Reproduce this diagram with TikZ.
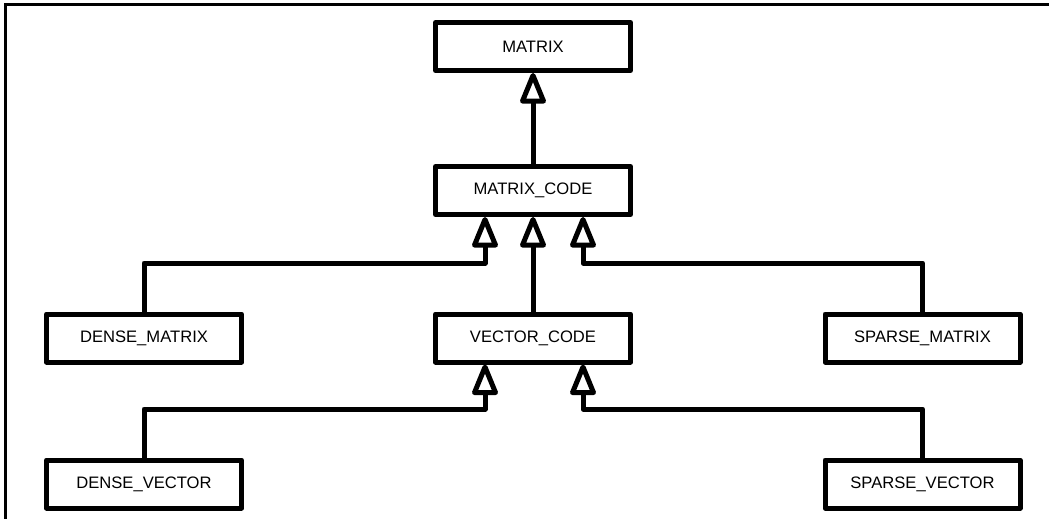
\documentclass[tikz,border=0pt]{standalone}
\usepackage{fontspec}
\setmainfont{Liberation Sans}
\usetikzlibrary{arrows.meta}
\begin{document}
\begin{tikzpicture}[x=1pt, y=-1pt,
  cls/.style={draw, line width=5pt, line join=round, minimum width=195pt,
    minimum height=48pt, inner sep=0pt, font=\fontsize{16.6}{20}\selectfont},
  conn/.style={line width=5pt, line join=round,
    -{Triangle[open, length=35pt, width=27pt, round]}},
  frameline/.style={line width=3pt}]
\useasboundingbox (0,0) rectangle (1049,519);

% frame edges
\draw[frameline] (5,519) -- (5,5) -- (1049,5);

% classes
\node[cls] (m)  at (533,46.5)  {MATRIX};
\node[cls] (mc) at (533,190.5) {MATRIX\_CODE};
\node[cls] (vc) at (533,338)   {VECTOR\_CODE};
\node[cls] (dm) at (144,338)   {DENSE\_MATRIX};
\node[cls] (sm) at (922.5,338) {SPARSE\_MATRIX};
\node[cls] (dv) at (144,484)   {DENSE\_VECTOR};
\node[cls] (sv) at (922.5,484) {SPARSE\_VECTOR};

% bends of the inheritance lines
\coordinate (jdm) at (485,263);
\coordinate (jsm) at (583,263);
\coordinate (jdv) at (485,409);
\coordinate (jsv) at (583,409);

% inheritance
\draw[conn] (mc.north) -- (m.south);
\draw[conn] (vc.north) -- (mc.south);
\draw[conn] (dm.north) |- (jdm) -- (jdm |- mc.south);
\draw[conn] (sm.north) |- (jsm) -- (jsm |- mc.south);
\draw[conn] (dv.north) |- (jdv) -- (jdv |- vc.south);
\draw[conn] (sv.north) |- (jsv) -- (jsv |- vc.south);
\end{tikzpicture}
\end{document}
